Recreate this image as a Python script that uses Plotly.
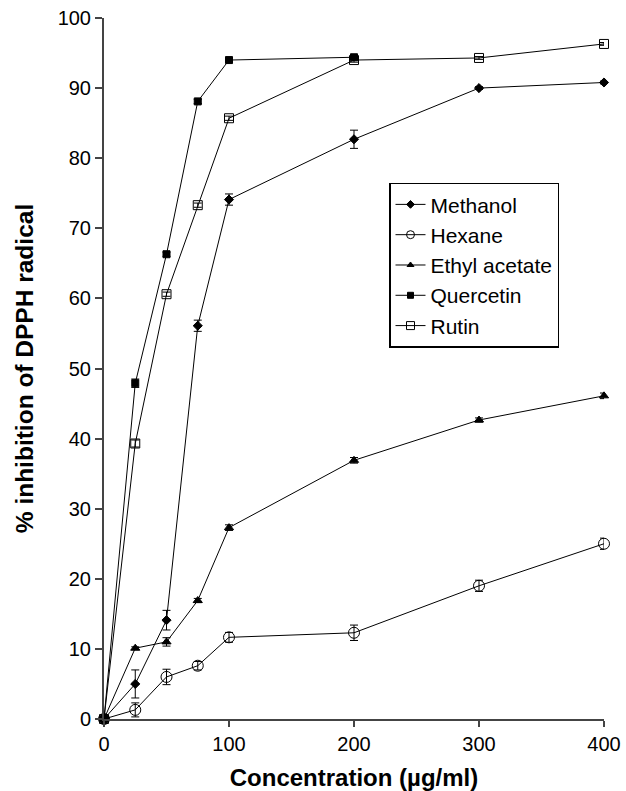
import plotly.graph_objects as go

# Concentration levels (µg/ml)
conc = [0, 25, 50, 75, 100, 200, 300, 400]
conc_quercetin = [0, 25, 50, 75, 100, 200]

# % inhibition of DPPH radical (mean) and standard deviation
methanol = [0, 5.0, 14.1, 56.1, 74.1, 82.7, 90.0, 90.8]
methanol_sd = [0, 2.0, 1.4, 0.8, 0.8, 1.3, 0.2, 0.2]

hexane = [0, 1.3, 6.0, 7.6, 11.65, 12.3, 19.0, 25.0]
hexane_sd = [0, 1.0, 1.1, 0.6, 0.7, 1.1, 0.8, 0.8]

ethyl_acetate = [0, 10.1, 11.0, 16.9, 27.3, 36.9, 42.65, 46.1]
ethyl_acetate_sd = [0, 0.2, 0.6, 0.3, 0.4, 0.4, 0.3, 0.4]

quercetin = [0, 47.9, 66.3, 88.1, 94.0, 94.4]
quercetin_sd = [0, 0.6, 0.3, 0.3, 0.2, 0.2]

rutin = [0, 39.3, 60.6, 73.3, 85.7, 94.0, 94.3, 96.3]
rutin_sd = [0, 0.5, 0.3, 0.3, 0.3, 0.3, 0.2, 0.2]

# name, x, y, sd, symbol, marker size on the plot, marker size in the legend
series = [
    ("Methanol", conc, methanol, methanol_sd, "diamond", 7, 6),
    ("Hexane", conc, hexane, hexane_sd, "circle-open", 11, 8),
    ("Ethyl acetate", conc, ethyl_acetate, ethyl_acetate_sd, "triangle-up", 8, 6),
    ("Quercetin", conc_quercetin, quercetin, quercetin_sd, "square", 7, 6),
    ("Rutin", conc, rutin, rutin_sd, "square-open", 9, 8),
]

fig = go.Figure()
for name, xs, ys, sd, sym, size, legend_size in series:
    fig.add_trace(go.Scatter(
        x=xs, y=ys, name=name, mode="lines+markers",
        legendgroup=name, showlegend=False,
        line=dict(color="black", width=1),
        marker=dict(symbol=sym, size=size, color="black",
                    line=dict(color="black", width=1)),
        error_y=dict(type="data", array=sd, visible=True,
                     color="black", thickness=1, width=4),
        cliponaxis=False,
    ))
    # legend entry with a smaller symbol
    fig.add_trace(go.Scatter(
        x=[None], y=[None], name=name, mode="lines+markers",
        legendgroup=name, showlegend=True,
        line=dict(color="black", width=1),
        marker=dict(symbol=sym, size=legend_size, color="black",
                    line=dict(color="black", width=1)),
    ))

font_family = "Liberation Sans, Arial, sans-serif"

fig.update_layout(
    width=626, height=791,
    margin=dict(l=104, r=22, t=18, b=72),
    paper_bgcolor="white", plot_bgcolor="white",
    font=dict(family=font_family, color="black", size=20),
    showlegend=True,
    legend=dict(
        x=0.57, y=0.765, xanchor="left", yanchor="top",
        bgcolor="white", bordercolor="black", borderwidth=1.5,
        font=dict(size=21, family=font_family),
        itemwidth=30, tracegroupgap=0,
        entrywidth=138, entrywidthmode="pixels",
    ),
    xaxis=dict(
        range=[0, 400], tickvals=[0, 100, 200, 300, 400],
        showgrid=False, zeroline=False, automargin=False,
        showline=True, linecolor="#444", linewidth=2,
        ticks="outside", ticklen=6, tickwidth=1.5, tickcolor="#444",
        tickfont=dict(size=20),
        title=dict(text="<b>Concentration (µg/ml)</b>",
                   font=dict(size=24), standoff=15),
    ),
    yaxis=dict(
        range=[0, 100], tickvals=list(range(0, 101, 10)),
        showgrid=False, zeroline=False, automargin=False,
        showline=True, linecolor="#444", linewidth=2,
        ticks="outside", ticklen=7, tickwidth=1.5, tickcolor="#444",
        tickfont=dict(size=20),
        title=dict(text="<b>% inhibition of DPPH radical</b>",
                   font=dict(size=24.5), standoff=17),
    ),
)

fig.write_html("out.html")
